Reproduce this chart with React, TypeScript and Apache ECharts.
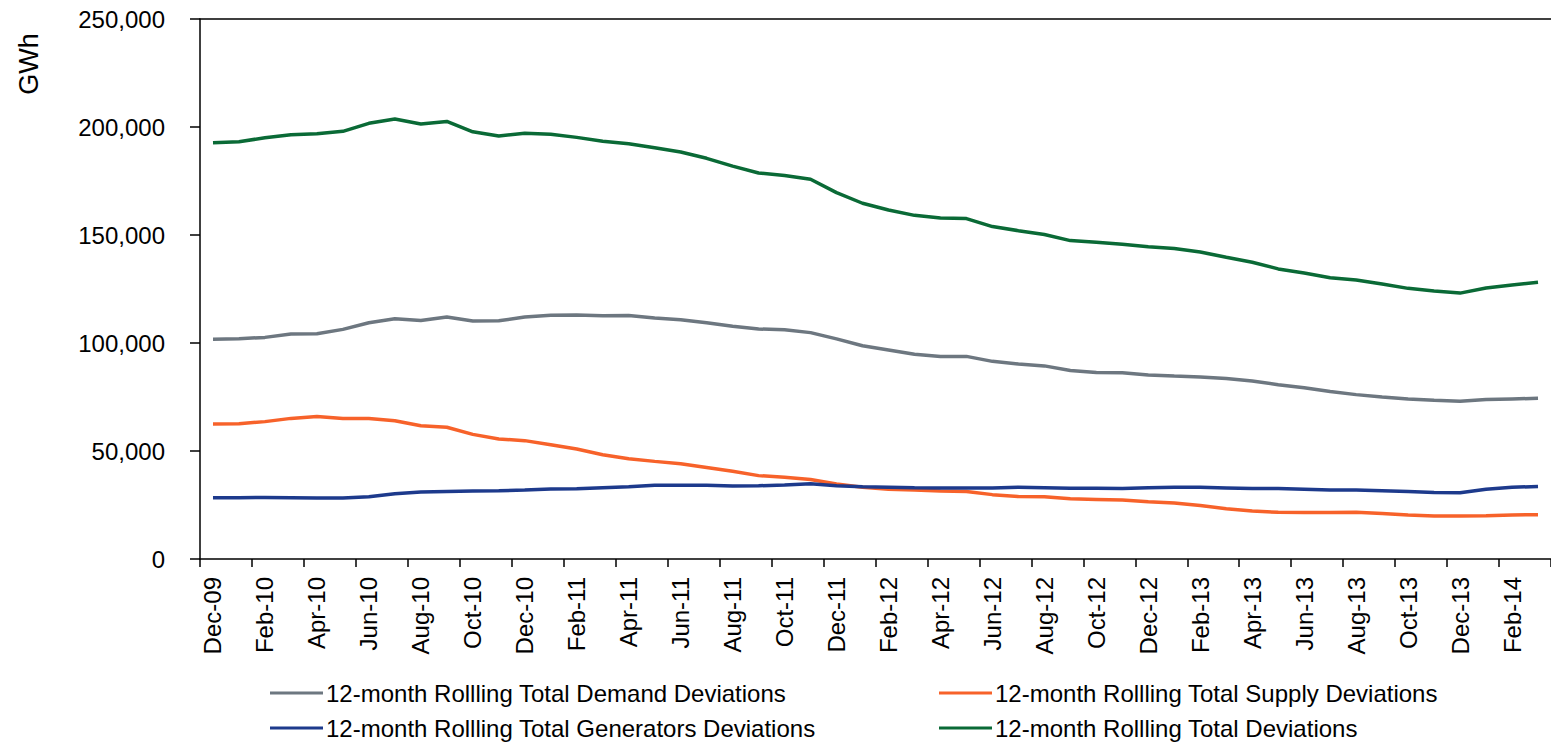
import React, { useEffect, useRef } from "react";
import * as echarts from "echarts";

const months = [
  "Dec-09", "Jan-10", "Feb-10", "Mar-10", "Apr-10", "May-10", "Jun-10", "Jul-10", "Aug-10", "Sep-10", "Oct-10", "Nov-10",
  "Dec-10", "Jan-11", "Feb-11", "Mar-11", "Apr-11", "May-11", "Jun-11", "Jul-11", "Aug-11", "Sep-11", "Oct-11", "Nov-11",
  "Dec-11", "Jan-12", "Feb-12", "Mar-12", "Apr-12", "May-12", "Jun-12", "Jul-12", "Aug-12", "Sep-12", "Oct-12", "Nov-12",
  "Dec-12", "Jan-13", "Feb-13", "Mar-13", "Apr-13", "May-13", "Jun-13", "Jul-13", "Aug-13", "Sep-13", "Oct-13", "Nov-13",
  "Dec-13", "Jan-14", "Feb-14", "Mar-14",
];

const demand = [
  101700, 102000, 102600, 104200, 104300, 106300, 109400, 111200, 110400, 112000,
  110200, 110300, 112000, 112800, 113000, 112600, 112700, 111600, 110800, 109400,
  107800, 106500, 106100, 104800, 101900, 98700, 96800, 94800, 93800, 93800,
  91500, 90300, 89400, 87300, 86300, 86200, 85200, 84700, 84300, 83600,
  82400, 80700, 79300, 77500, 76100, 75000, 74100, 73500, 73000, 73800,
  74100, 74400,
];

const supply = [
  62500, 62600, 63600, 65100, 66000, 65100, 65100, 64000, 61700, 61000,
  57700, 55600, 54800, 52900, 50900, 48300, 46400, 45200, 44100, 42400,
  40600, 38600, 37800, 36800, 34700, 33200, 32300, 31900, 31500, 31300,
  29800, 28900, 28800, 27900, 27600, 27300, 26500, 25900, 24800, 23300,
  22200, 21600, 21500, 21500, 21600, 21100, 20400, 19900, 19900, 20000,
  20400, 20500,
];

const generators = [
  28400, 28400, 28500, 28400, 28200, 28200, 28800, 30200, 31000, 31300,
  31500, 31600, 31900, 32400, 32500, 33000, 33500, 34100, 34100, 34100,
  33800, 33900, 34300, 34800, 33900, 33400, 33200, 33000, 32900, 32900,
  32900, 33200, 33000, 32700, 32700, 32600, 33000, 33200, 33200, 32900,
  32600, 32600, 32300, 31900, 31900, 31600, 31200, 30800, 30700, 32300,
  33200, 33600,
];

const total = [
  192700, 193200, 195000, 196400, 196900, 198000, 201700, 203700, 201400, 202600,
  197800, 195800, 197100, 196600, 195200, 193400, 192200, 190400, 188400, 185500,
  181900, 178700, 177500, 175800, 169600, 164700, 161600, 159100, 157900, 157600,
  153900, 152000, 150200, 147400, 146600, 145700, 144600, 143700, 142100, 139700,
  137400, 134300, 132400, 130200, 129200, 127300, 125300, 124100, 123100, 125500,
  126900, 128100,
];

const seriesNames = [
  "12-month Rollling Total Demand Deviations",
  "12-month Rollling Total Supply Deviations",
  "12-month Rollling Total Generators Deviations",
  "12-month Rollling Total Deviations",
];
const seriesColors = ["#6D7780", "#F7622A", "#1D3A8C", "#0A6A36"];
const seriesData = [demand, supply, generators, total];

const FONT = "'Liberation Sans', Arial, sans-serif";
const FS = 24;

export default function App() {
  const ref = useRef<HTMLDivElement>(null);

  useEffect(() => {
    if (!ref.current) return;
    const chart = echarts.init(ref.current, undefined, { renderer: "svg" });

    const legendPos = [
      { left: 270, top: 681 },
      { left: 939, top: 681 },
      { left: 270, top: 716 },
      { left: 939, top: 716 },
    ];

    chart.setOption({
      animation: false,
      backgroundColor: "#ffffff",
      textStyle: { fontFamily: FONT, color: "#000" },
      grid: { left: 200, right: 0, top: 19, bottom: 186, containLabel: false },
      legend: seriesNames.map((n, i) => ({
        data: [n],
        left: legendPos[i].left,
        top: legendPos[i].top,
        icon: "rect",
        itemWidth: 53,
        itemHeight: 3,
        itemGap: 0,
        padding: 0,
        textStyle: { fontFamily: FONT, fontSize: FS, color: "#000", padding: [0, 0, 0, -2] },
      })),
      xAxis: [
        {
          type: "category",
          data: months,
          boundaryGap: true,
          position: "bottom",
          axisLine: { show: true, lineStyle: { color: "#000", width: 1.5 } },
          axisTick: { show: true, interval: 1, length: 8, lineStyle: { color: "#000", width: 1.5 } },
          axisLabel: {
            interval: 1,
            rotate: 90,
            margin: 18,
            fontFamily: FONT,
            fontSize: FS,
            color: "#000",
          },
          splitLine: { show: false },
        },
        {
          type: "category",
          data: months,
          position: "top",
          axisLine: { show: true, lineStyle: { color: "#000", width: 1.5 } },
          axisTick: { show: false },
          axisLabel: { show: false },
          splitLine: { show: false },
        },
      ],
      yAxis: {
        type: "value",
        min: 0,
        max: 250000,
        interval: 50000,
        axisLine: { show: true, lineStyle: { color: "#000", width: 1.5 } },
        axisTick: { show: true, length: 10, lineStyle: { color: "#000", width: 1.5 } },
        axisLabel: {
          margin: 35,
          fontFamily: FONT,
          fontSize: FS,
          color: "#000",
          formatter: (v: number) => v.toLocaleString("en-US"),
        },
        splitLine: { show: false },
      },
      graphic: [
        {
          type: "text",
          x: 29,
          y: 64,
          rotation: Math.PI / 2,
          style: {
            text: "GWh",
            fontFamily: FONT,
            fontSize: 27,
            fill: "#000",
            align: "center",
            verticalAlign: "middle",
          },
        },
      ],
      series: seriesNames.map((n, i) => ({
        name: n,
        type: "line",
        data: seriesData[i],
        xAxisIndex: 0,
        showSymbol: false,
        symbol: "none",
        color: seriesColors[i],
        lineStyle: { color: seriesColors[i], width: 3.5 },
      })),
    });

    return () => chart.dispose();
  }, []);

  return (
    <div
      ref={ref}
      style={{ position: "absolute", left: 0, top: 0, width: 1551, height: 745, background: "#fff" }}
    />
  );
}
